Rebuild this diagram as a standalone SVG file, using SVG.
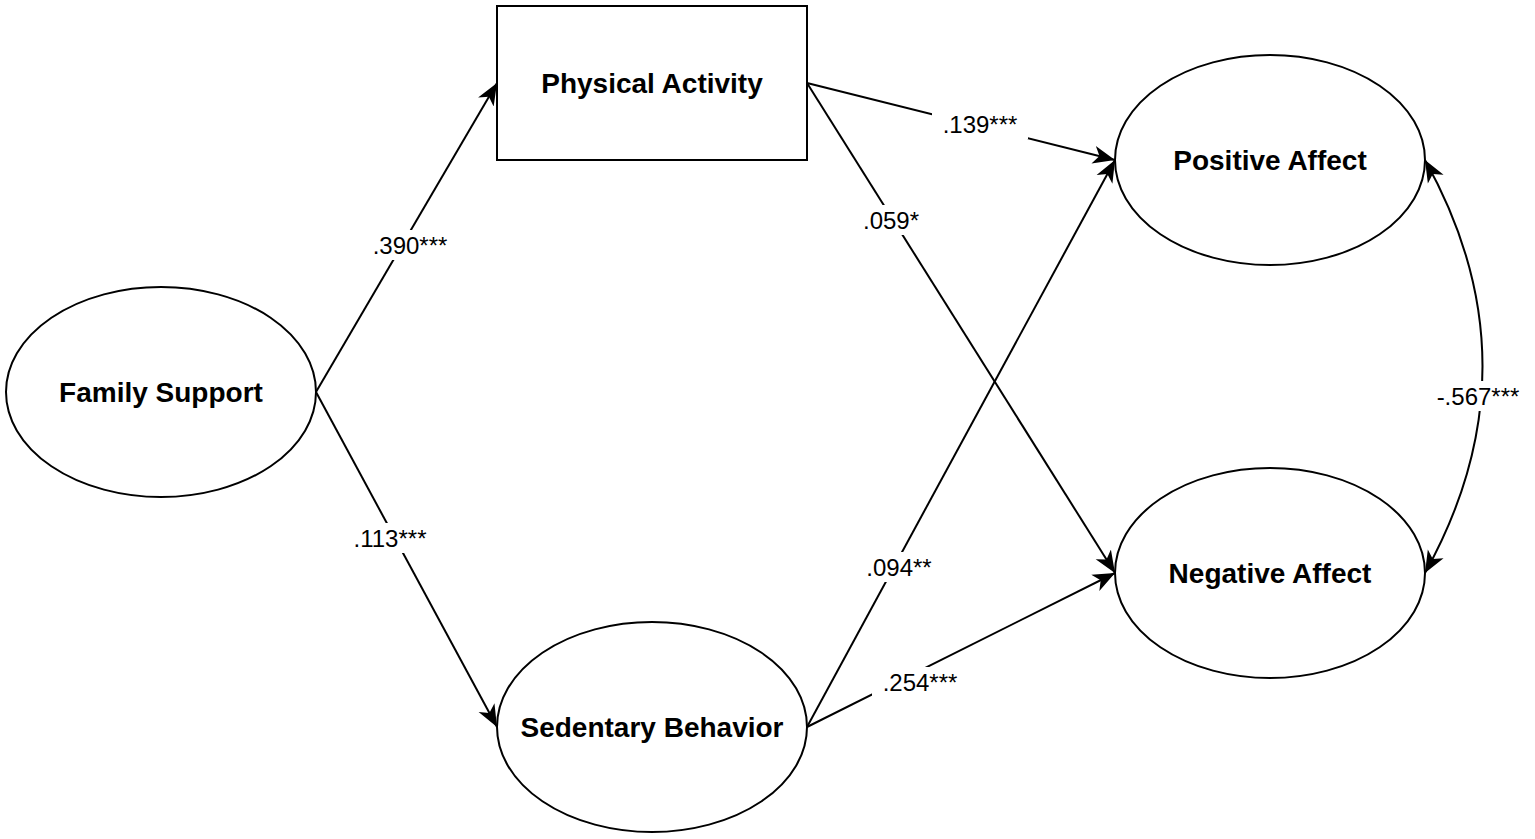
<svg xmlns="http://www.w3.org/2000/svg" width="1535" height="839" viewBox="0 0 1535 839">
<style>
.n{fill:#fff;stroke:#000;stroke-width:2}
.t{font-family:"Liberation Sans",Arial,sans-serif;font-weight:bold;font-size:28px;text-anchor:middle}
.l{font-family:"Liberation Sans",Arial,sans-serif;font-size:24px;text-anchor:middle}
.c{fill:none;stroke:#000;stroke-width:2}
.bg{fill:#fff}
</style>
<defs>
<marker id="a" markerWidth="24" markerHeight="20" refX="22" refY="10" orient="auto-start-reverse" markerUnits="userSpaceOnUse">
<path d="M0,1 L22,10 L0,19 L6,10 Z" fill="#000"/>
</marker>
</defs>
<rect width="1535" height="839" fill="#fff"/>
<g id="connectors">
<line class="c" x1="316" y1="392" x2="497" y2="83" marker-end="url(#a)"/>
<line class="c" x1="316" y1="392" x2="497" y2="727" marker-end="url(#a)"/>
<line class="c" x1="807" y1="83" x2="1115" y2="160" marker-end="url(#a)"/>
<line class="c" x1="807" y1="83" x2="1115" y2="573" marker-end="url(#a)"/>
<line class="c" x1="807" y1="727" x2="1115" y2="160" marker-end="url(#a)"/>
<line class="c" x1="807" y1="727" x2="1115" y2="573" marker-end="url(#a)"/>
<path class="c" d="M1425,160 Q1540,366 1425,573" marker-start="url(#a)" marker-end="url(#a)"/>
<rect class="bg" x="362" y="230" width="96" height="30"/><text class="l" x="410" y="254">.390***</text>
<rect class="bg" x="342" y="523" width="96" height="30"/><text class="l" x="390" y="547">.113***</text>
<rect class="bg" x="932" y="109" width="96" height="30"/><text class="l" x="980" y="133">.139***</text>
<rect class="bg" x="855" y="205" width="72" height="30"/><text class="l" x="891" y="229">.059*</text>
<rect class="bg" x="856" y="552" width="86" height="30"/><text class="l" x="899" y="576">.094**</text>
<rect class="bg" x="872" y="667" width="96" height="30"/><text class="l" x="920" y="691">.254***</text>
<rect class="bg" x="1428" y="381" width="102" height="30"/><text class="l" x="1478" y="405">-.567***</text>
</g>
<g id="family"><ellipse class="n" cx="161" cy="392" rx="155" ry="105"/><text class="t" x="161" y="402">Family Support</text></g>
<g id="physical"><rect class="n" x="497" y="6" width="310" height="154"/><text class="t" x="652" y="93">Physical Activity</text></g>
<g id="sedentary"><ellipse class="n" cx="652" cy="727" rx="155" ry="105"/><text class="t" x="652" y="737">Sedentary Behavior</text></g>
<g id="positive"><ellipse class="n" cx="1270" cy="160" rx="155" ry="105"/><text class="t" x="1270" y="170">Positive Affect</text></g>
<g id="negative"><ellipse class="n" cx="1270" cy="573" rx="155" ry="105"/><text class="t" x="1270" y="583">Negative Affect</text></g>
</svg>
